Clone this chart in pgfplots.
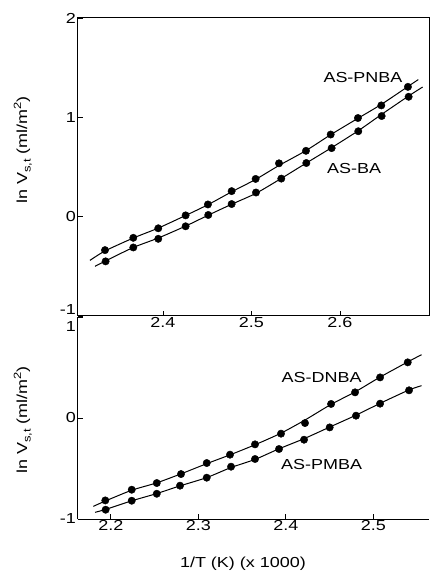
\documentclass[border=0pt]{standalone}
\usepackage{fontspec}
\setmainfont{Liberation Sans}[FakeStretch=1.24]
\usepackage{pgfplots}
\pgfplotsset{compat=1.18}
\usepackage{pgfplotstable}

\pgfplotstableread{
x y
2.3345 -0.337
2.3665 -0.213
2.3947 -0.117
2.4256 0.013
2.4508 0.123
2.4776 0.257
2.5047 0.380
2.5311 0.537
2.5616 0.663
2.5895 0.827
2.6203 0.993
2.6467 1.120
2.6768 1.307
}\pnba
\pgfplotstableread{
x y
2.3352 -0.450
2.3665 -0.310
2.3947 -0.223
2.4256 -0.097
2.4512 0.017
2.4776 0.127
2.5051 0.243
2.5337 0.383
2.5620 0.540
2.5906 0.690
2.6207 0.860
2.6471 1.013
2.6776 1.207
}\ba
\pgfplotstableread{
x y
2.1937 -0.816
2.2239 -0.710
2.2525 -0.644
2.2802 -0.555
2.3096 -0.446
2.3362 -0.363
2.3648 -0.261
2.3945 -0.155
2.4219 -0.050
2.4517 0.139
2.4791 0.254
2.5077 0.402
2.5393 0.551
}\dnba
\pgfplotstableread{
x y
2.1941 -0.908
2.2239 -0.819
2.2525 -0.750
2.2791 -0.670
2.3096 -0.591
2.3374 -0.482
2.3648 -0.406
2.3922 -0.307
2.4208 -0.215
2.4501 -0.093
2.4802 0.023
2.5077 0.142
2.5408 0.274
}\pmba

\newcommand{\fs}{\fontsize{14.5}{17}\selectfont}
\newcommand{\ylab}{ln V\raisebox{-3.5pt}{\fontsize{10.5}{12}\selectfont s,t} (ml/m\raisebox{6pt}{\fontsize{10.5}{12}\selectfont 2})}

\pgfplotsset{
  every axis/.append style={
    scale only axis,
    width=351pt,
    axis line style={line width=1pt},
    tick style={line width=0.9pt, black},
    major tick length=5pt,
    /pgf/number format/assume math mode=true,
    tick label style={font=\fs},
    label style={font=\fs},
    yticklabel style={inner sep=2pt},
    xticklabel style={inner sep=1pt},
  },
  fitline/.style={black, line width=1pt, smooth, tension=0.4, no marks},
  pts/.style={only marks, mark=*, mark size=3.7pt, mark options={fill=black, draw=black}},
}

\begin{document}
\fs
\begin{tikzpicture}
% bottom panel
\begin{axis}[
  at={(0,0)}, anchor=south west,
  height=202pt,
  xmin=2.1625, xmax=2.5636,
  ymin=-1, ymax=1,
  axis x line*=bottom, axis y line*=left,
  axis line style={-},
  xtick={2.2,2.3,2.4,2.5},
  xticklabels={2.2,2.3,2.4,2.5},
  ytick={-1,0},
  yticklabels={-1,0},
  extra y ticks={1},
  extra y tick labels={1},
  extra y tick style={yticklabel style={yshift=-10pt}},
  xlabel={1/T (K) (x 1000)},
  xlabel style={at={(axis description cs:0.47,-0.223)}, anchor=center},
  ylabel={\ylab},
  ylabel style={at={(axis description cs:-0.157,0.49)}, anchor=center},
  clip=false,
]
\addplot[fitline] coordinates {
(2.180,-0.875) (2.1937,-0.822) (2.2239,-0.715) (2.2525,-0.642) (2.2802,-0.553)
(2.3096,-0.452) (2.3362,-0.365) (2.3648,-0.265) (2.3945,-0.150) (2.4219,-0.020)
(2.4517,0.135) (2.4791,0.258) (2.5077,0.405) (2.5393,0.555) (2.5551,0.627)};
\addplot[fitline] coordinates {
(2.182,-0.934) (2.1941,-0.905) (2.2239,-0.820) (2.2525,-0.748) (2.2791,-0.672)
(2.3096,-0.590) (2.3374,-0.490) (2.3648,-0.410) (2.3922,-0.305) (2.4208,-0.205)
(2.4501,-0.090) (2.4802,0.028) (2.5077,0.145) (2.5408,0.278) (2.5551,0.320)};
\addplot[pts] table[x=x,y=y] {\dnba};
\addplot[pts] table[x=x,y=y] {\pmba};
\node[font=\fs] at (axis cs:2.441,0.396) {AS-DNBA};
\node[font=\fs] at (axis cs:2.441,-0.462) {AS-PMBA};
\end{axis}
% top panel
\begin{axis}[
  at={(0,203pt)}, anchor=south west,
  height=298pt,
  xmin=2.304, xmax=2.7006,
  ymin=-1, ymax=2,
  tick pos=left,
  xtick={2.4,2.5,2.6},
  xticklabels={2.4,2.5,2.6},
  ytick={0,1,2},
  yticklabels={0,1,2},
  extra y ticks={-1},
  extra y tick labels={-1},
  extra y tick style={yticklabel style={yshift=6pt}},
  ylabel={\ylab},
  ylabel style={at={(axis description cs:-0.157,0.557)}, anchor=center},
  clip=false,
]
\addplot[fitline] coordinates {
(2.3175,-0.44) (2.3345,-0.345) (2.3665,-0.215) (2.3947,-0.115) (2.4256,0.012)
(2.4508,0.120) (2.4776,0.250) (2.5047,0.375) (2.5311,0.515) (2.5616,0.665)
(2.5895,0.825) (2.6203,0.990) (2.6467,1.130) (2.6768,1.310) (2.6885,1.38)};
\addplot[fitline] coordinates {
(2.3232,-0.50) (2.3352,-0.445) (2.3665,-0.31) (2.3947,-0.215) (2.4256,-0.095)
(2.4512,0.015) (2.4776,0.125) (2.5051,0.235) (2.5337,0.385) (2.5620,0.540)
(2.5906,0.695) (2.6207,0.865) (2.6471,1.030) (2.6776,1.215) (2.6934,1.305)};
\addplot[pts] table[x=x,y=y] {\pnba};
\addplot[pts] table[x=x,y=y] {\ba};
\node[font=\fs] at (axis cs:2.626,1.40) {AS-PNBA};
\node[font=\fs] at (axis cs:2.616,0.48) {AS-BA};
\end{axis}
\pgfresetboundingbox
\path (-78pt,-55pt) rectangle (352pt,519pt);
\end{tikzpicture}
\end{document}
